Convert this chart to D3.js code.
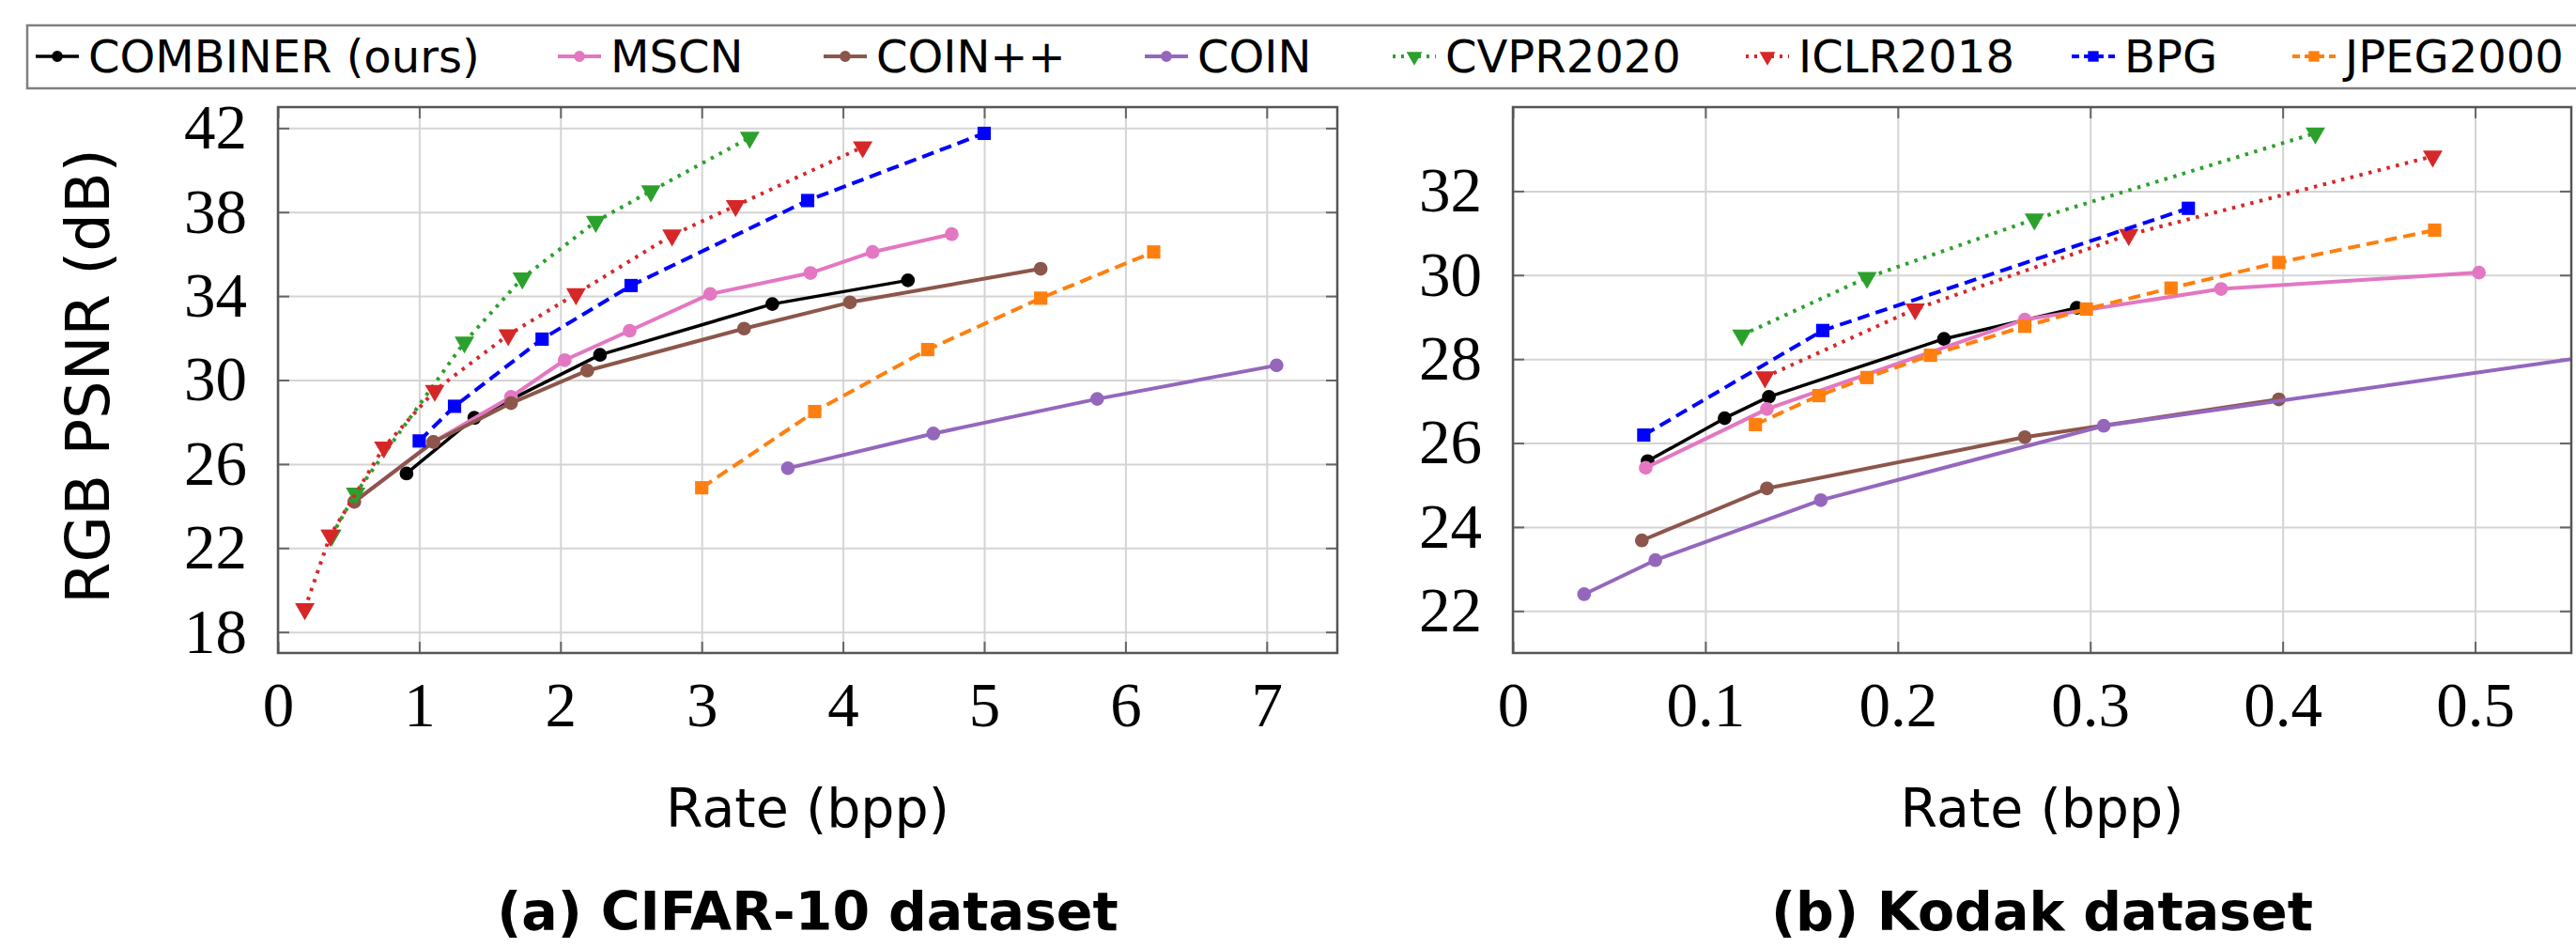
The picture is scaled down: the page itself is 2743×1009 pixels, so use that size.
<!DOCTYPE html>
<html>
<head>
<meta charset="utf-8">
<script src="https://cdn.jsdelivr.net/npm/d3@7"></script>
<style>
  body { margin: 0; background: #fff; }
  svg { display: block; }
</style>
</head>
<body>
<script>
// legend order = drawing order
const methods = ["COMBINER (ours)", "MSCN", "COIN++", "COIN", "CVPR2020", "ICLR2018", "BPG", "JPEG2000"];

// CIFAR-10, [rate (bpp), RGB PSNR (dB)]
const cifarCombiner = [[0.91, 25.55], [1.39, 28.2], [2.28, 31.2], [3.5, 33.62], [4.46, 34.75]];
const cifarMscn = [[0.54, 24.2], [1.1, 27.05], [1.65, 29.2], [2.03, 30.95], [2.49, 32.35], [3.06, 34.1], [3.77, 35.1], [4.21, 36.1], [4.77, 36.95]];
const cifarCoinPP = [[0.54, 24.2], [1.1, 27.05], [1.65, 28.9], [2.19, 30.45], [3.3, 32.45], [4.05, 33.7], [5.4, 35.3]];
const cifarCoin = [[3.61, 25.8], [4.64, 27.45], [5.8, 29.1], [7.07, 30.7]];
const cifarCvpr = [[0.38, 22.6], [0.55, 24.6], [1.32, 31.8], [1.73, 34.85], [2.25, 37.55], [2.64, 39.0], [3.34, 41.55]];
const cifarIclr = [[0.19, 19.1], [0.37, 22.6], [0.75, 26.8], [1.11, 29.5], [1.63, 32.15], [2.11, 34.1], [2.79, 36.9], [3.24, 38.3], [4.14, 41.1]];
const cifarBpg = [[1.0, 27.1], [1.25, 28.75], [1.87, 31.95], [2.5, 34.5], [3.75, 38.55], [5.0, 41.75]];
const cifarJpeg = [[3.0, 24.87], [3.8, 28.5], [4.6, 31.45], [5.4, 33.9], [6.2, 36.1]];

// Kodak
const kodakCombiner = [[0.07, 25.57], [0.11, 26.59], [0.133, 27.1], [0.224, 28.48], [0.293, 29.22]];
const kodakMscn = [[0.069, 25.41], [0.132, 26.81], [0.266, 28.94], [0.368, 29.67], [0.502, 30.06]];
const kodakCoinPP = [[0.067, 23.68], [0.132, 24.92], [0.266, 26.14], [0.398, 27.04]];
const kodakCoin = [[0.037, 22.4], [0.074, 23.21], [0.16, 24.64], [0.307, 26.41], [0.65, 28.65]];
const kodakCvpr = [[0.119, 28.57], [0.184, 29.94], [0.271, 31.33], [0.417, 33.38]];
const kodakIclr = [[0.131, 27.57], [0.209, 29.19], [0.32, 30.96], [0.478, 32.83]];
const kodakBpg = [[0.068, 26.19], [0.161, 28.68], [0.351, 31.59]];
const kodakJpeg = [[0.126, 26.44], [0.159, 27.13], [0.184, 27.56], [0.217, 28.09], [0.266, 28.78], [0.298, 29.19], [0.342, 29.69], [0.398, 30.3], [0.479, 31.07]];

// tick labels
const cifarTicksX = [0, 1, 2, 3, 4, 5, 6, 7];
const cifarTicksY = [18, 22, 26, 30, 34, 38, 42];
const kodakTicksX = [0, 0.1, 0.2, 0.3, 0.4, 0.5];
const kodakTicksY = [22, 24, 26, 28, 30, 32];

const W = 2743, H = 1009;

// look of each method
const styles = {
  "COMBINER (ours)": { color: "#000000", dash: null, marker: "circle", width: 3.5 },
  "MSCN":     { color: "#e377c2", dash: null, marker: "circle", width: 4 },
  "COIN++":   { color: "#8c564b", dash: null, marker: "circle", width: 4 },
  "COIN":     { color: "#9467bd", dash: null, marker: "circle", width: 4 },
  "CVPR2020": { color: "#2ca02c", dash: "3.5,6.5", marker: "triangle", width: 4 },
  "ICLR2018": { color: "#d62728", dash: "3.5,6.5", marker: "triangle", width: 4 },
  "BPG":      { color: "#0000ff", dash: "13,7", marker: "square", width: 4 },
  "JPEG2000": { color: "#ff7f0e", dash: "13,7", marker: "square", width: 4 }
};

// where each legend label starts
const legendTextX = [94, 650, 933, 1275, 1539, 1915, 2262, 2497];

const symbolFor = {
  circle: d3.symbol().type(d3.symbolCircle).size(170),
  square: d3.symbol().type(d3.symbolSquare).size(200),
  triangle: d3.symbol().type(d3.symbolTriangle).size(190)
};
const markerRot = m => m === "triangle" ? " rotate(180)" : "";

const svg = d3.select("body").append("svg")
  .attr("width", W)
  .attr("height", H)
  .style("background", "#fff");

function drawPanel(cfg) {
  const x = d3.scaleLinear().domain(cfg.xDomain).range([cfg.left, cfg.right]);
  const y = d3.scaleLinear().domain(cfg.yDomain).range([cfg.bottom, cfg.top]);
  const pw = cfg.right - cfg.left, ph = cfg.bottom - cfg.top;
  const g = svg.append("g");

  // grid
  g.append("g")
    .attr("transform", "translate(0," + cfg.bottom + ")")
    .call(d3.axisBottom(x).tickValues(cfg.ticksX).tickSize(-ph).tickFormat(""))
    .call(a => a.select(".domain").remove())
    .call(a => a.selectAll("line").attr("stroke", "#d4d4d4").attr("stroke-width", 2));
  g.append("g")
    .attr("transform", "translate(" + cfg.left + ",0)")
    .call(d3.axisLeft(y).tickValues(cfg.ticksY).tickSize(-pw).tickFormat(""))
    .call(a => a.select(".domain").remove())
    .call(a => a.selectAll("line").attr("stroke", "#d4d4d4").attr("stroke-width", 2));

  // small inner ticks on all four sides
  const tickLen = 12;
  const sides = [
    [d3.axisBottom(x).tickValues(cfg.ticksX), "translate(0," + cfg.bottom + ")"],
    [d3.axisTop(x).tickValues(cfg.ticksX), "translate(0," + cfg.top + ")"],
    [d3.axisLeft(y).tickValues(cfg.ticksY), "translate(" + cfg.left + ",0)"],
    [d3.axisRight(y).tickValues(cfg.ticksY), "translate(" + cfg.right + ",0)"]
  ];
  sides.forEach(([ax, tr]) => {
    g.append("g").attr("transform", tr)
      .call(ax.tickSize(-tickLen).tickFormat(""))
      .call(a => a.select(".domain").remove())
      .call(a => a.selectAll("line").attr("stroke", "#666").attr("stroke-width", 2));
  });

  // tick labels
  g.append("g")
    .attr("transform", "translate(0," + cfg.bottom + ")")
    .call(d3.axisBottom(x).tickValues(cfg.ticksX).tickSize(0).tickPadding(30).tickFormat(d => String(d)))
    .call(a => a.select(".domain").remove())
    .call(a => a.selectAll("text").attr("font-family", "'Liberation Serif', serif").attr("font-size", 67).attr("fill", "#000"));
  g.append("g")
    .attr("transform", "translate(" + cfg.left + ",0)")
    .call(d3.axisLeft(y).tickValues(cfg.ticksY).tickSize(0).tickPadding(33).tickFormat(d => String(d)))
    .call(a => a.select(".domain").remove())
    .call(a => a.selectAll("text").attr("font-family", "'Liberation Serif', serif").attr("font-size", 67).attr("fill", "#000"));

  // series, clipped to the frame
  const clipId = "clip-" + cfg.id;
  svg.append("clipPath").attr("id", clipId)
    .append("rect").attr("x", cfg.left).attr("y", cfg.top).attr("width", pw).attr("height", ph);
  const plot = g.append("g").attr("clip-path", "url(#" + clipId + ")");
  const line = d3.line().x(d => x(d[0])).y(d => y(d[1]));

  methods.forEach((m, i) => {
    const st = styles[m];
    const pts = cfg.series[i];
    plot.append("path")
      .datum(pts)
      .attr("d", line)
      .attr("fill", "none")
      .attr("stroke", st.color)
      .attr("stroke-width", st.width)
      .attr("stroke-dasharray", st.dash)
      .attr("stroke-linejoin", "round");
    plot.selectAll(null)
      .data(pts)
      .enter()
      .append("path")
      .attr("d", symbolFor[st.marker])
      .attr("transform", d => "translate(" + x(d[0]) + "," + y(d[1]) + ")" + markerRot(st.marker))
      .attr("fill", st.color);
  });

  // frame
  g.append("rect")
    .attr("x", cfg.left).attr("y", cfg.top)
    .attr("width", pw).attr("height", ph)
    .attr("fill", "none").attr("stroke", "#555").attr("stroke-width", 2.5);

  // axis labels
  const cx = (cfg.left + cfg.right) / 2;
  g.append("text")
    .attr("x", cx).attr("y", 880)
    .attr("text-anchor", "middle")
    .attr("font-family", "'DejaVu Sans', sans-serif")
    .attr("font-size", 57)
    .text("Rate (bpp)");
  if (cfg.yLabel) {
    g.append("text")
      .attr("transform", "translate(94," + ((cfg.top + cfg.bottom) / 2 - 4) + ") rotate(-90)")
      .attr("text-anchor", "middle")
      .attr("dominant-baseline", "central")
      .attr("font-family", "'DejaVu Sans', sans-serif")
      .attr("font-size", 64)
      .text(cfg.yLabel);
  }

  // sub-caption
  g.append("text")
    .attr("x", cx).attr("y", 990)
    .attr("text-anchor", "middle")
    .attr("font-family", "'DejaVu Sans', sans-serif")
    .attr("font-weight", "bold")
    .attr("font-size", 57)
    .text(cfg.title);
}

drawPanel({
  id: "cifar", left: 296, right: 1424, top: 114, bottom: 695,
  xDomain: [0, 7.5], yDomain: [17, 43],
  ticksX: cifarTicksX, ticksY: cifarTicksY,
  series: [cifarCombiner, cifarMscn, cifarCoinPP, cifarCoin, cifarCvpr, cifarIclr, cifarBpg, cifarJpeg],
  yLabel: "RGB PSNR (dB)", title: "(a) CIFAR-10 dataset"
});

drawPanel({
  id: "kodak", left: 1611, right: 2738, top: 114, bottom: 695,
  xDomain: [0, 0.55], yDomain: [21, 34],
  ticksX: kodakTicksX, ticksY: kodakTicksY,
  series: [kodakCombiner, kodakMscn, kodakCoinPP, kodakCoin, kodakCvpr, kodakIclr, kodakBpg, kodakJpeg],
  yLabel: null, title: "(b) Kodak dataset"
});

// legend across the top
const legend = svg.append("g");
legend.append("rect")
  .attr("x", 29).attr("y", 27)
  .attr("width", W).attr("height", 67)
  .attr("fill", "#fff").attr("stroke", "#808080").attr("stroke-width", 2.5);

const ly = 60;
methods.forEach((m, i) => {
  const st = styles[m];
  const tx = legendTextX[i];
  legend.append("line")
    .attr("x1", tx - 56).attr("x2", tx - 10)
    .attr("y1", ly).attr("y2", ly)
    .attr("stroke", st.color)
    .attr("stroke-width", st.width)
    .attr("stroke-dasharray", st.dash ? (st.dash.startsWith("3") ? "3,6" : "8,5") : null);
  legend.append("path")
    .attr("d", symbolFor[st.marker])
    .attr("transform", "translate(" + (tx - 33) + "," + ly + ") scale(0.8)" + markerRot(st.marker))
    .attr("fill", st.color);
  legend.append("text")
    .attr("x", tx).attr("y", ly + 17)
    .attr("font-family", "'DejaVu Sans', sans-serif")
    .attr("font-size", 48)
    .text(m);
});
</script>
</body>
</html>
